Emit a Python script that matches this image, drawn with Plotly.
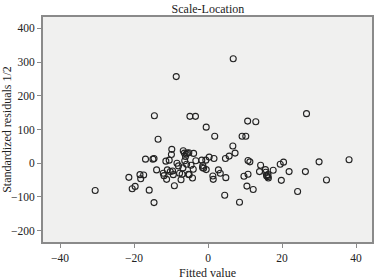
import plotly.graph_objects as go

fitted = [-30.5, -21.4, -20.5, -19.7, -18.4, -18.2, -17.4, -16.9, -15.9, -14.9,
          -14.6, -14.5, -14.6, -13.9, -13.5, -12.1, -11.9, -11.4, -11.2, -11.0,
          -10.5, -10.2, -9.8, -9.9, -9.6, -9.4, -9.1, -8.6, -8.4, -8.0,
          -7.7, -7.3, -7.0, -6.8, -6.7, -6.4, -6.3, -6.1, -5.9, -5.8,
          -5.6, -5.3, -5.2, -5.1, -4.9, -4.6, -4.2, -4.0, -3.9, -3.4,
          -3.3, -1.7, -1.5, -1.4, -1.2, -0.6, -0.5, -0.5, 0.3, 1.3,
          1.4, 1.6, 1.8, 2.8, 3.3, 4.5, 4.7, 4.8, 5.7, 6.8,
          6.7, 7.3, 8.5, 9.2, 9.7, 10.2, 10.5, 10.7, 10.8, 10.8,
          11.3, 12.2, 12.9, 13.9, 14.2, 15.5, 15.6, 15.8, 16.1, 16.3,
          16.2, 17.6, 19.5, 19.8, 20.4, 21.9, 24.2, 26.3, 26.6, 30.0,
          32.0, 38.1]
resid = [-81, -42, -76, -69, -34, -46, -35, 12, -80, 12,
         14, 141, -117, -20, 71, -30, -37, 6, -48, -20,
         9, -25, 41, 26, -23, -34, -67, 257, 0, -8,
         -30, -49, -33, -14, 37, 30, 7, 20, 27, -3,
         30, -33, 31, -34, 139, -6, -44, -18, 29, 139,
         7, 9, -13, -7, -15, 9, -19, 107, 18, -38,
         -48, 14, 80, -20, -30, -95, 14, -43, 21, 310,
         51, 30, -116, 80, -39, 80, -68, 125, -33, 8,
         4, -78, 123, -25, -6, -19, -27, -37, -40, -44,
         -34, -21, -3, -51, 3, -25, -84, -25, 147, 4,
         -50, 10]

xticks = [-40, -20, 0, 20, 40]
yticks = [-200, -100, 0, 100, 200, 300, 400]

FONT = "Liberation Serif"

fig = go.Figure(go.Scatter(
    x=fitted, y=resid, mode="markers",
    marker=dict(symbol="circle-open", size=6, color="#222222", line=dict(width=1.1)),
    hoverinfo="skip", showlegend=False,
))

axis_common = dict(
    showgrid=False, zeroline=False, showline=True, mirror=True,
    linecolor="#8a8a8a", linewidth=2, ticks="outside", ticklen=4,
    tickcolor="#8a8a8a", tickwidth=1, automargin=False,
    tickfont=dict(family=FONT, size=11.5, color="#222"),
)

fig.update_layout(
    width=378, height=280,
    margin=dict(l=43, r=6, t=17, b=38),
    paper_bgcolor="white", plot_bgcolor="#f0f0ef",
    font=dict(family=FONT, color="#222"),
    title=dict(text="Scale-Location", x=0.55, xanchor="center", y=0.968, yanchor="middle",
               font=dict(family=FONT, size=12, color="#222")),
    xaxis=dict(range=[-44.6, 44.3], tickvals=xticks,
               title=dict(text="Fitted value", font=dict(family=FONT, size=12)),
               **axis_common),
    yaxis=dict(range=[-234, 434], tickvals=yticks,
               title=dict(text="Standardized residuals 1/2", font=dict(family=FONT, size=12)),
               **axis_common),
)

fig.write_html("out.html", config={"displayModeBar": False},
               post_script="document.body.style.margin='0';document.body.style.overflow='hidden';")
